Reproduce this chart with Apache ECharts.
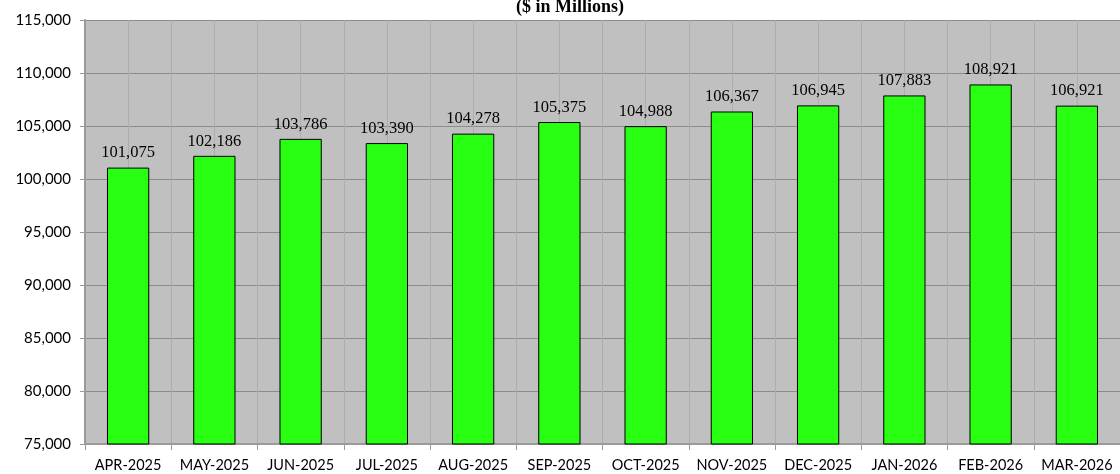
<!DOCTYPE html>
<html><head><meta charset="utf-8">
<script src="https://cdn.jsdelivr.net/npm/echarts@6/dist/echarts.min.js"></script>
<style>html,body{margin:0;padding:0;background:#fff}#c{width:1120px;height:474px}</style>
</head><body><div id="c"></div>
<script>
const categories = ['APR-2025','MAY-2025','JUN-2025','JUL-2025','AUG-2025','SEP-2025','OCT-2025','NOV-2025','DEC-2025','JAN-2026','FEB-2026','MAR-2026'];
const values = [101075,102186,103786,103390,104278,105375,104988,106367,106945,107883,108921,106921];
const yMin = 75000, yMax = 115000, yStep = 5000;
const halfCats = categories.flatMap(c => [c + ' a', c + ' b']);

const chart = echarts.init(document.getElementById('c'));
chart.setOption({
  animation: false,
  backgroundColor: '#fff',
  title: {
    text: '($ in Millions)', left: 565, textAlign: 'center', top: -7,
    textStyle: {fontFamily: 'Liberation Serif', fontWeight: 'bold', fontSize: 18, color: '#000'}
  },
  grid: {left: 85, right: -3, top: 20, bottom: 30, show: true, backgroundColor: '#C0C0C0', borderWidth: 0},
  xAxis: [{
    type: 'category', data: categories, boundaryGap: true,
    axisLine: {lineStyle: {color: '#9a9a9a', width: 2}},
    axisTick: {show: true, interval: 0, length: 6, lineStyle: {color: '#9a9a9a'}},
    axisLabel: {interval: 0, fontFamily: 'Lato', fontSize: 14.5, color: '#000', margin: 14},
    splitLine: {show: false}
  }, {
    type: 'category', data: halfCats, boundaryGap: true, position: 'bottom',
    axisLine: {show: false}, axisTick: {show: false}, axisLabel: {show: false},
    splitLine: {show: true, interval: 0, lineStyle: {color: '#adadad', width: 1}}
  }],
  yAxis: {
    type: 'value', min: yMin, max: yMax, interval: yStep,
    axisLine: {show: true, lineStyle: {color: '#9a9a9a', width: 2}},
    axisTick: {show: true, length: 5, lineStyle: {color: '#9a9a9a'}},
    axisLabel: {fontFamily: 'Lato', fontSize: 15, color: '#000', margin: 14,
      formatter: v => v.toLocaleString('en-US')},
    splitLine: {show: true, lineStyle: {color: '#8c8c8c', width: 1}}
  },
  series: [{
    type: 'bar', xAxisIndex: 0, data: values, barWidth: '49%',
    itemStyle: {color: '#28FF12', borderColor: '#000', borderWidth: 1},
    label: {show: true, position: 'top', distance: 6, fontFamily: 'Liberation Serif', fontSize: 16.5, color: '#000',
      formatter: p => p.value.toLocaleString('en-US')}
  }]
});
</script></body></html>
